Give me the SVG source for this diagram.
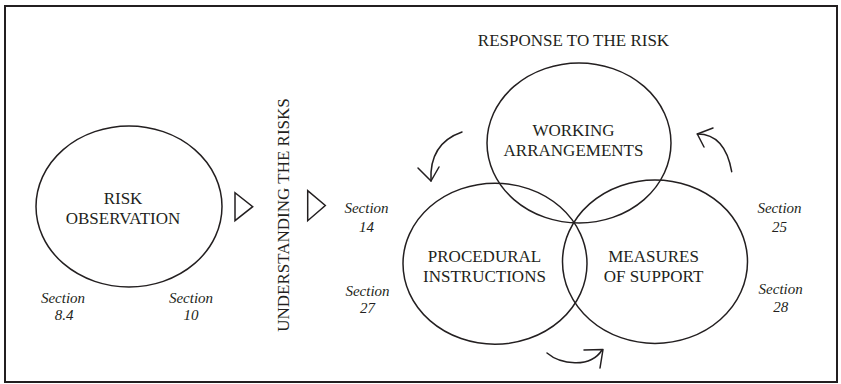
<svg xmlns="http://www.w3.org/2000/svg" width="841" height="384" viewBox="0 0 841 384">
<style>
.shape{fill:none;stroke:#231f20;stroke-width:1.5}
.lbl{font-size:17px;fill:#231f20;text-anchor:middle}
.sec{font-size:15px;font-style:italic;fill:#231f20;text-anchor:middle}
.arr{fill:none;stroke:#231f20;stroke-width:1.5;stroke-linecap:round;stroke-linejoin:round}
</style>
<rect x="0" y="0" width="841" height="384" fill="#ffffff"/>
<rect x="5" y="6" width="832" height="376" fill="none" stroke="#231f20" stroke-width="2"/>

<g font-family="Liberation Serif, Times New Roman, DejaVu Serif, serif">
<g id="risk-observation">
  <ellipse class="shape" cx="129" cy="206.5" rx="93" ry="80.5"/>
  <text class="lbl" x="123" y="204">RISK</text>
  <text class="lbl" x="123" y="224">OBSERVATION</text>
</g>
<g id="section-8-4">
  <text class="sec" x="63" y="303">Section</text>
  <text class="sec" x="64" y="320">8.4</text>
</g>
<g id="section-10">
  <text class="sec" x="191" y="303">Section</text>
  <text class="sec" x="191" y="320">10</text>
</g>

<g id="understanding">
  <text class="lbl" transform="translate(289,215) rotate(-90)">UNDERSTANDING THE RISKS</text>
</g>

<g id="response-title">
  <text class="lbl" x="573.5" y="46">RESPONSE TO THE RISK</text>
</g>

<g id="working-arrangements">
  <ellipse class="shape" cx="579" cy="143" rx="92" ry="80"/>
  <text class="lbl" x="573.5" y="136">WORKING</text>
  <text class="lbl" x="573.5" y="156">ARRANGEMENTS</text>
</g>
<g id="procedural-instructions">
  <ellipse class="shape" cx="495" cy="263.7" rx="92" ry="80.5"/>
  <text class="lbl" x="484.5" y="261.7">PROCEDURAL</text>
  <text class="lbl" x="484.5" y="281.7">INSTRUCTIONS</text>
</g>
<g id="measures-of-support">
  <ellipse class="shape" cx="655" cy="261.7" rx="92.5" ry="81.7"/>
  <text class="lbl" x="653.5" y="261.7">MEASURES</text>
  <text class="lbl" x="653.5" y="281.7">OF SUPPORT</text>
</g>

<g id="section-14">
  <text class="sec" x="366.5" y="213.3">Section</text>
  <text class="sec" x="366.5" y="231.7">14</text>
</g>
<g id="section-27">
  <text class="sec" x="367.5" y="296">Section</text>
  <text class="sec" x="367.5" y="313.3">27</text>
</g>
<g id="section-25">
  <text class="sec" x="779.5" y="213.3">Section</text>
  <text class="sec" x="779.5" y="231.7">25</text>
</g>
<g id="section-28">
  <text class="sec" x="780.7" y="294">Section</text>
  <text class="sec" x="780.7" y="311.7">28</text>
</g>
</g>

<g id="connectors">
  <polygon class="shape" points="235,192.7 235,220.7 252.7,206.7"/>
  <polygon class="shape" points="307.7,190.7 307.7,220.7 325.3,205.5"/>
  <path class="arr" d="M462,132 Q429,143.5 431,181"/>
  <path class="arr" d="M418,168 L431,181 L439,167"/>
  <path class="arr" d="M731.7,171.7 Q725,133.8 697.3,134"/>
  <path class="arr" d="M713,128 L697.3,134 L704,147"/>
  <path class="arr" d="M547,353 C560,364 590,369 602,350"/>
  <path class="arr" d="M584,350 L603,349.5 L600,368"/>
</g>
</svg>
